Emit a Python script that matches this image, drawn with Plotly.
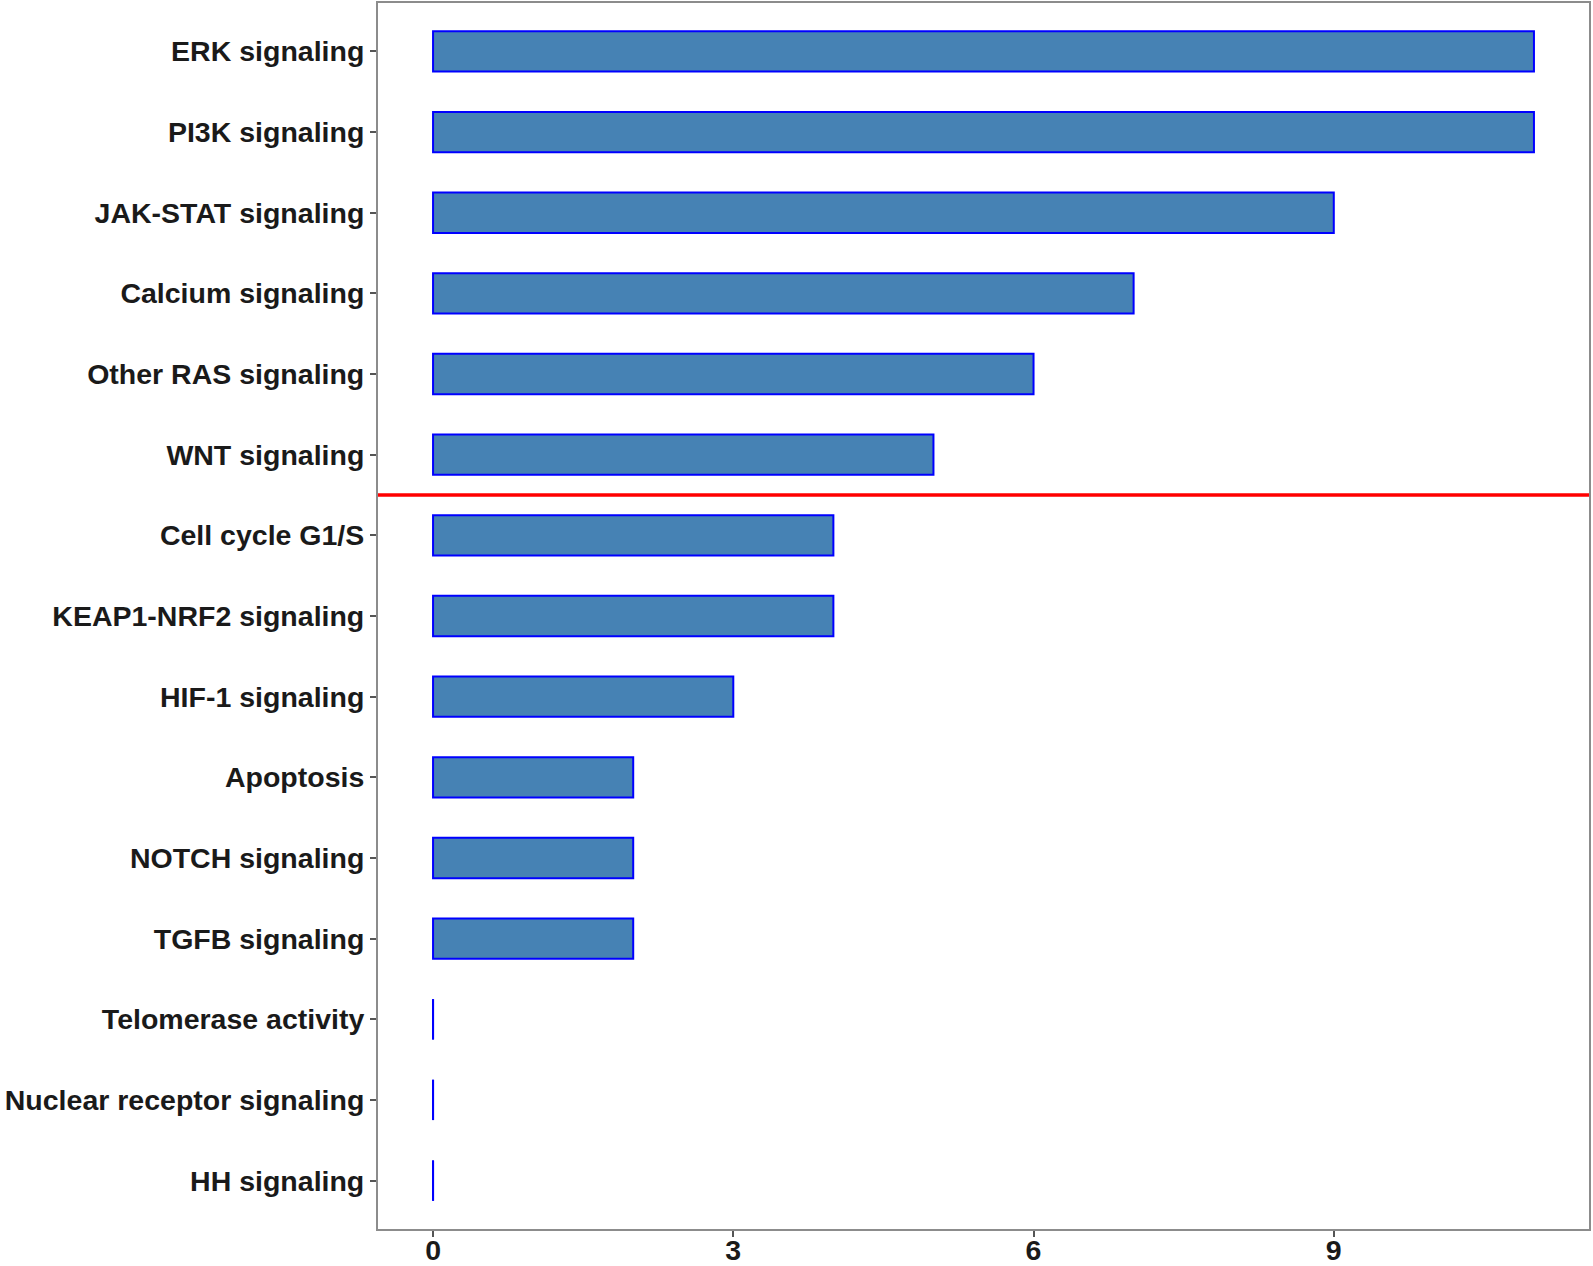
import plotly.graph_objects as go

categories = [
    "ERK signaling", "PI3K signaling", "JAK-STAT signaling", "Calcium signaling",
    "Other RAS signaling", "WNT signaling", "Cell cycle G1/S", "KEAP1-NRF2 signaling",
    "HIF-1 signaling", "Apoptosis", "NOTCH signaling", "TGFB signaling",
    "Telomerase activity", "Nuclear receptor signaling", "HH signaling",
]
values = [11, 11, 9, 7, 6, 5, 4, 4, 3, 2, 2, 2, 0, 0, 0]
x_ticks = [0, 3, 6, 9]
threshold_after = "WNT signaling"  # red line drawn below this category

n = len(categories)
ypos = [n - i for i in range(n)]  # top category at highest position
bar_width = 0.5

fig = go.Figure()
fig.add_trace(go.Bar(
    x=values, y=ypos, orientation="h", width=bar_width,
    marker=dict(color="#4682B4", line=dict(color="#0000FF", width=2)),
    showlegend=False, hoverinfo="x+y",
))

# zero-valued bars are drawn by ggplot as their outline only (a thin vertical line)
zx, zy = [], []
for v, p in zip(values, ypos):
    if v == 0:
        zx += [v, v, None]
        zy += [p - bar_width / 2, p + bar_width / 2, None]
fig.add_trace(go.Scatter(x=zx, y=zy, mode="lines",
                         line=dict(color="#0000FF", width=2),
                         showlegend=False, hoverinfo="skip"))

thr_y = ypos[categories.index(threshold_after)] - 0.5
fig.add_shape(type="line", xref="paper", x0=0, x1=1, yref="y", y0=thr_y, y1=thr_y,
              line=dict(color="#FF0000", width=3.5))

xmax = max(values)
pad = 0.05 * xmax
tick_font = dict(family="Liberation Sans, Arial, sans-serif", size=28.5, color="#1a1a1a", weight="bold")

fig.update_layout(
    width=1593, height=1266, autosize=False,
    margin=dict(l=378, r=4, t=3, b=37),
    plot_bgcolor="white", paper_bgcolor="white",
    xaxis=dict(range=[-pad, xmax + pad], tickvals=x_ticks, ticktext=[str(t) for t in x_ticks],
               showgrid=False, zeroline=False, showline=True, mirror=True, automargin=False,
               linecolor="#8c8c8c", linewidth=2, ticks="outside", ticklen=6,
               ticklabelstandoff=-11,
               tickcolor="#555555", tickwidth=2, tickfont=tick_font),
    yaxis=dict(range=[0.4, n + 0.6], tickvals=ypos, ticktext=categories,
               showgrid=False, zeroline=False, showline=True, mirror=True, automargin=False,
               linecolor="#8c8c8c", linewidth=2, ticks="outside", ticklen=6,
               tickcolor="#555555", tickwidth=2, tickfont=tick_font),
)

fig.write_html("out.html", config={"displayModeBar": False},
               post_script="document.body.style.margin='0';document.body.style.overflow='hidden';")
